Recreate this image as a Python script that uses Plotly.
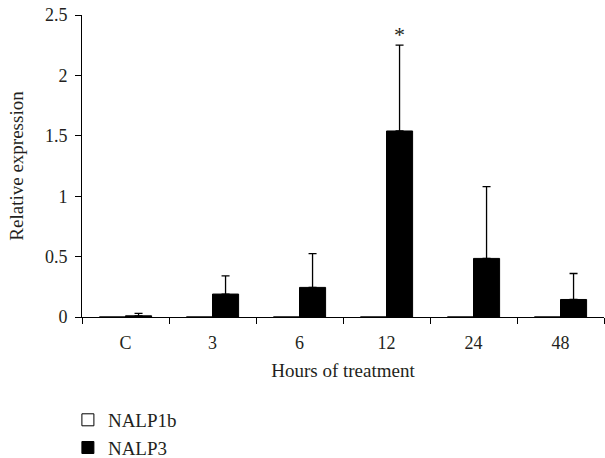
import plotly.graph_objects as go

categories = ["C", "3", "6", "12", "24", "48"]
nalp1b_values = [0, 0, 0, 0, 0, 0]
nalp3_values = [0.01, 0.19, 0.245, 1.54, 0.485, 0.145]
nalp3_errors = [0.02, 0.15, 0.28, 0.71, 0.595, 0.215]
y_ticks = [0, 0.5, 1, 1.5, 2, 2.5]
y_tick_labels = ["0", "0.5", "1", "1.5", "2", "2.5"]
significant = ["12"]

FONT = "Liberation Serif"
TXT = "#231f20"

fig = go.Figure()
fig.add_trace(go.Bar(
    x=categories, y=nalp1b_values, name="NALP1b",
    marker=dict(color="white", line=dict(color="black", width=1)),
))
fig.add_trace(go.Bar(
    x=categories, y=nalp3_values, name="NALP3",
    marker=dict(color="black", line=dict(color="black", width=1)),
    error_y=dict(type="data", symmetric=False, array=nalp3_errors,
                 arrayminus=[0] * len(categories), color="black", thickness=1.3, width=4),
))

for cat in significant:
    i = categories.index(cat)
    fig.add_annotation(x=i, y=nalp3_values[i] + nalp3_errors[i], text="*",
                       showarrow=False, xshift=13, yanchor="bottom", yshift=-4,
                       font=dict(family=FONT, size=22, color=TXT))

fig.update_layout(
    width=605, height=458,
    margin=dict(l=82, r=1, t=15, b=141, autoexpand=False),
    paper_bgcolor="white", plot_bgcolor="white",
    barmode="group", bargap=0.4, bargroupgap=0,
    font=dict(family=FONT, size=18, color=TXT),
    showlegend=True,
    legend=dict(x=-0.027, y=-0.278, xanchor="left", yanchor="top",
                orientation="v", font=dict(family=FONT, size=19, color=TXT),
                itemwidth=30, tracegroupgap=0, bgcolor="rgba(0,0,0,0)"),
)
fig.update_xaxes(
    type="category", showline=True, linecolor="black", linewidth=1,
    ticks="outside", tickson="boundaries", ticklen=6, tickcolor="black",
    showgrid=False, zeroline=False, automargin=False, ticklabelstandoff=9,
    tickfont=dict(family=FONT, size=18, color=TXT),
    title=dict(text="Hours of treatment", font=dict(family=FONT, size=19, color=TXT), standoff=12),
)
fig.update_yaxes(
    range=[0, 2.5], tickvals=y_ticks, ticktext=y_tick_labels,
    showline=True, linecolor="black", linewidth=1,
    ticks="outside", ticklen=6, tickcolor="black",
    showgrid=False, zeroline=False, automargin=False, ticklabelstandoff=4,
    tickfont=dict(family=FONT, size=18, color=TXT),
    title=dict(text="Relative expression", font=dict(family=FONT, size=19, color=TXT), standoff=16),
)

fig.write_html("out.html", config={"displayModeBar": False},
               post_script="document.body.style.margin='0';document.body.style.overflow='hidden';")
